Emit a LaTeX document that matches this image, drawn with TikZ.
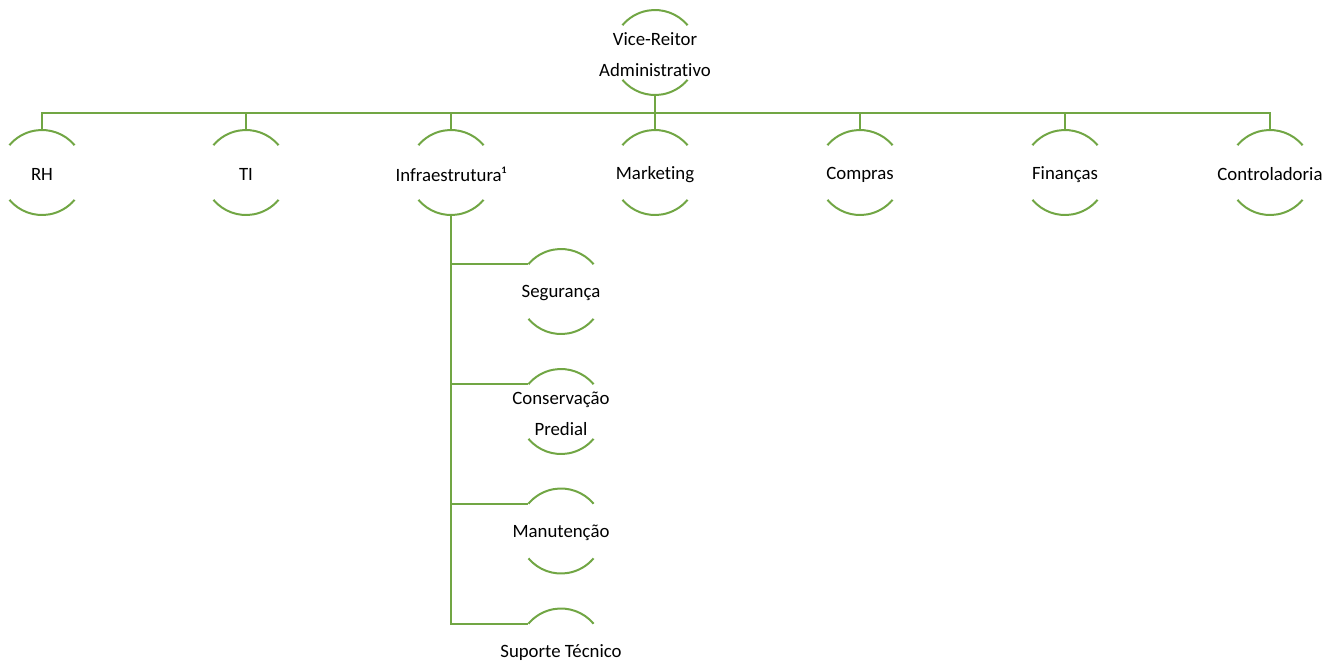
\documentclass[tikz,border=0pt]{standalone}
\usepackage{fontspec}
\setmainfont{Carlito}[Ligatures=CommonOff]
\usepackage{xcolor}
\usepackage{tikz}
\usetikzlibrary{calc}

\definecolor{orggreen}{RGB}{113,166,68}
\newcommand{\arcr}{21.25pt}

\begin{document}
\begin{tikzpicture}[
  x=0.5pt, y=-0.5pt,
  unit/.style={rectangle, inner sep=0pt, align=center, font=\fontsize{9.4}{15.5}\selectfont},
  arcline/.style={draw=orggreen, line width=1pt},
  link/.style={draw=orggreen, line width=1.1pt}
]
\useasboundingbox (0,0) rectangle (1338,666);
\clip (0,0) rectangle (1338,666);

% Top
\node[unit] (vr) at (655,54.5) {Vice-Reitor\\Administrativo};

% First level
\node[unit] (rh) at (42,174.5) {RH};
\node[unit] (ti) at (246,174.5) {TI};
\node[unit] (infra) at (451,174.5) {Infraestrutura¹};
\node[unit] (mkt) at (655,174.5) {Marketing};
\node[unit] (comp) at (860,174.5) {Compras};
\node[unit] (fin) at (1065,174.5) {Finanças};
\node[unit] (ctrl) at (1270,174.5) {Controladoria};

% Infraestrutura
\node[unit] (seg) at (561,293.5) {Segurança};
\node[unit] (cons) at (561,413.5) {Conservação\\Predial};
\node[unit] (man) at (561,533) {Manutenção};
\node[unit] (sup) at (561,653) {Suporte Técnico};

% Arcs round each unit (text sits 1pt below the circle centre)
\foreach \n in {vr,rh,ti,infra,mkt,comp,fin,ctrl,seg,cons,man,sup} {
  \draw[arcline] ([shift={(40:\arcr)},yshift=1pt]\n.center) arc (40:140:\arcr);
  \draw[arcline] ([shift={(220:\arcr)},yshift=1pt]\n.center) arc (220:320:\arcr);
}

% Connections
\coordinate (bus) at (655,113);
\foreach \n in {rh,ti,infra,mkt,comp,fin,ctrl}
  \draw[link] ([yshift=1pt-\arcr]vr.center) |- (bus -| \n.center) -- ([yshift=1pt+\arcr]\n.center);

\foreach \n in {seg,cons,man,sup}
  \draw[link] ([yshift=1pt-\arcr]infra.center) |- ([shift={(140:\arcr)},yshift=1pt]\n.center);

\end{tikzpicture}
\end{document}
